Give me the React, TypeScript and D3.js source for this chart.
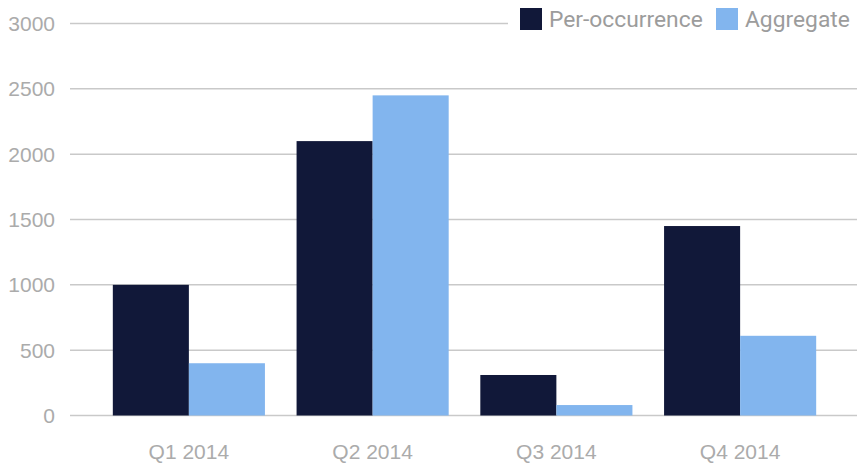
import React, { useEffect, useRef } from 'react';
import * as d3 from 'd3';

const quarters = ['Q1 2014', 'Q2 2014', 'Q3 2014', 'Q4 2014'];
const seriesNames = ['Per-occurrence', 'Aggregate'];
const perOccurrence = [1000, 2100, 310, 1450];
const aggregate = [400, 2450, 80, 610];
const yTicks = [0, 500, 1000, 1500, 2000, 2500, 3000];

const colors = ['#111839', '#82b5ee'];

const App = () => {
  const ref = useRef<SVGSVGElement>(null);

  useEffect(() => {
    const width = 857;
    const height = 465;

    const svg = d3.select(ref.current)
      .attr('width', width)
      .attr('height', height);

    svg.selectAll('*').remove();

    const x = d3.scaleBand<string>()
      .domain(quarters)
      .range([97, 832])
      .padding(0);

    const xSub = d3.scaleBand<string>()
      .domain(seriesNames)
      .range([0, x.bandwidth()])
      .paddingInner(0)
      .paddingOuter(0.208);

    const y = d3.scaleLinear()
      .domain([0, 3000])
      .range([415.5, 23.5]);

    // gridlines
    svg.append('g')
      .selectAll('line')
      .data(yTicks)
      .enter().append('line')
      .attr('x1', 70)
      .attr('x2', width)
      .attr('y1', d => y(d))
      .attr('y2', d => y(d))
      .attr('stroke', '#c9c9c9')
      .attr('stroke-width', 1.5);

    // y labels
    svg.append('g')
      .selectAll('text')
      .data(yTicks)
      .enter().append('text')
      .attr('x', 55)
      .attr('y', d => y(d))
      .attr('dy', '0.36em')
      .attr('text-anchor', 'end')
      .attr('fill', '#ababab')
      .style('font-family', '"Liberation Sans", Arial, sans-serif')
      .style('font-size', '21px')
      .text(d => d);

    // bars
    const rows = quarters.map((q, i) => ({
      quarter: q,
      values: [perOccurrence[i], aggregate[i]]
    }));

    const groups = svg.append('g')
      .selectAll('g')
      .data(rows)
      .enter().append('g')
      .attr('transform', d => `translate(${x(d.quarter)},0)`);

    groups.selectAll('rect')
      .data(d => d.values.map((v, k) => ({ name: seriesNames[k], value: v, k })))
      .enter().append('rect')
      .attr('x', d => xSub(d.name)!)
      .attr('width', xSub.bandwidth())
      .attr('y', d => y(d.value))
      .attr('height', d => y(0) - y(d.value))
      .attr('fill', d => colors[d.k]);

    // x labels
    svg.append('g')
      .selectAll('text')
      .data(quarters)
      .enter().append('text')
      .attr('x', d => x(d)! + x.bandwidth() / 2)
      .attr('y', 459)
      .attr('text-anchor', 'middle')
      .attr('fill', '#ababab')
      .style('font-family', '"Liberation Sans", Arial, sans-serif')
      .style('font-size', '21px')
      .text(d => d);

    // legend
    const legend = svg.append('g');
    legend.append('rect')
      .attr('x', 508)
      .attr('y', 0)
      .attr('width', width - 508)
      .attr('height', 38)
      .attr('fill', 'white');

    const legendX = [520, 716];
    seriesNames.forEach((name, i) => {
      legend.append('rect')
        .attr('x', legendX[i])
        .attr('y', 8)
        .attr('width', 22)
        .attr('height', 22)
        .attr('fill', colors[i]);
      legend.append('text')
        .attr('x', legendX[i] + 29)
        .attr('y', 19)
        .attr('dy', '0.36em')
        .attr('fill', '#9c9c9c')
        .style('font-family', 'Roboto, sans-serif')
        .style('font-size', '22.8px')
        .text(name);
    });
  }, []);

  return (
    <svg ref={ref} style={{ position: 'absolute', left: 0, top: 0 }}></svg>
  );
};

export default App;
